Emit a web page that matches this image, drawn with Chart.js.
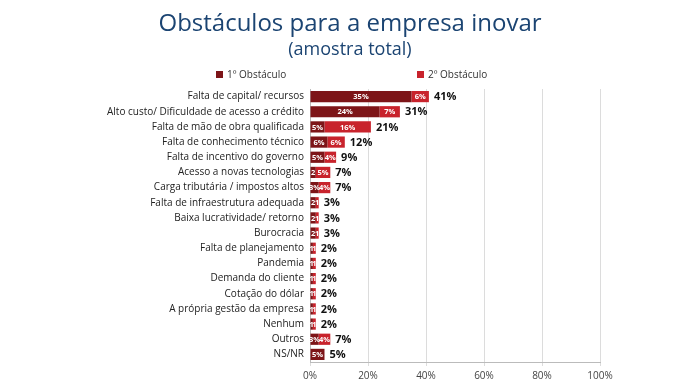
<!DOCTYPE html>
<html>
<head>
<meta charset="utf-8">
<script src="https://cdn.jsdelivr.net/npm/chart.js@4.4.0/dist/chart.umd.min.js"></script>
<style>
  html, body { margin: 0; padding: 0; background: #fff; }
  #wrap { width: 700px; height: 390px; position: relative; font-family: 'Open Sans', 'DejaVu Sans', sans-serif; }
  #chartBox { position: absolute; left: 0; top: 0; width: 700px; height: 390px; }
  .title { position: absolute; left: 0; width: 700px; text-align: center; color: #1b4472; white-space: nowrap; }
  #t1 { top: 6px; font-size: 24px; line-height: 32px; }
  #t2 { top: 36px; font-size: 18px; line-height: 24px; }
  .leg { position: absolute; top: 67px; font-size: 10px; line-height: 14px; color: #333; white-space: nowrap; }
  .leg span { display: inline-block; width: 7px; height: 7px; margin-right: 4px; vertical-align: 0px; }
</style>
</head>
<body>
<div id="wrap">
  <div id="chartBox"><canvas id="myBarGraph"></canvas></div>
  <div class="title" id="t1">Obstáculos para a empresa inovar</div>
  <div class="title" id="t2">(amostra total)</div>
  <div class="leg" id="leg1" style="left:216px"><span style="background:#7d1518"></span>1º Obstáculo</div>
  <div class="leg" id="leg2" style="left:417px"><span style="background:#c8232c"></span>2º Obstáculo</div>
</div>
<script>
// categories (top to bottom)
var obstacles = [
    "Falta de capital/ recursos",
    "Alto custo/ Dificuldade de acesso a crédito",
    "Falta de mão de obra qualificada",
    "Falta de conhecimento técnico",
    "Falta de incentivo do governo",
    "Acesso a novas tecnologias",
    "Carga tributária / impostos altos",
    "Falta de infraestrutura adequada",
    "Baixa lucratividade/ retorno",
    "Burocracia",
    "Falta de planejamento",
    "Pandemia",
    "Demanda do cliente",
    "Cotação do dólar",
    "A própria gestão da empresa",
    "Nenhum",
    "Outros",
    "NS/NR"
];
var firstObstacle  = [35, 24, 5, 6, 5, 2, 3, 2, 2, 2, 1, 1, 1, 1, 1, 1, 3, 5];
var secondObstacle = [6, 7, 16, 6, 4, 5, 4, 1, 1, 1, 1, 1, 1, 1, 1, 1, 4, 0];
var totals         = [41, 31, 21, 12, 9, 7, 7, 3, 3, 3, 2, 2, 2, 2, 2, 2, 7, 5];
var xTicks = [0, 20, 40, 60, 80, 100];

var labelFont = "'Open Sans', 'DejaVu Sans', sans-serif";

// draws the % inside each segment and the total at the end of the bar
var barLabels = {
    id: "barLabels",
    afterDatasetsDraw: function(chart) {
        var ctx = chart.ctx;
        ctx.save();
        ctx.textBaseline = "middle";
        chart.data.datasets.forEach(function(ds, di) {
            var meta = chart.getDatasetMeta(di);
            meta.data.forEach(function(bar, i) {
                var v = ds.data[i];
                if (!v) return;
                var w = Math.abs(bar.x - bar.base);
                ctx.fillStyle = "#fff";
                ctx.font = "bold 7.5px " + labelFont;
                ctx.textAlign = "center";
                var cx = (bar.x + bar.base) / 2;
                var txt = v + "%";
                if (ctx.measureText(txt).width > w + 4) txt = String(v);
                ctx.fillText(txt, cx, bar.y + 0.5);
            });
        });
        // totals
        var last = chart.getDatasetMeta(1);
        var first = chart.getDatasetMeta(0);
        ctx.fillStyle = "#111";
        ctx.font = "bold 11px " + labelFont;
        ctx.textAlign = "left";
        totals.forEach(function(t, i) {
            var x = Math.max(last.data[i].x, first.data[i].x);
            ctx.fillText(t + "%", x + 5, first.data[i].y + 0.5);
        });
        ctx.restore();
    }
};

var ctx = document.getElementById("myBarGraph");
var myBarGraph = new Chart(ctx, {
    type: "bar",
    data: {
        labels: obstacles,
        datasets: [{
                label: "1º Obstáculo",
                backgroundColor: "#7d1518",
                data: firstObstacle
            },
            {
                label: "2º Obstáculo",
                backgroundColor: "#c8232c",
                data: secondObstacle
            }
        ]
    },
    options: {
        indexAxis: "y",
        responsive: true,
        maintainAspectRatio: false,
        animation: false,
        layout: { padding: { left: 0, right: 100, top: 89, bottom: 4 } },
        datasets: { bar: { categoryPercentage: 0.74, barPercentage: 1 } },
        plugins: {
            title: { display: false },
            legend: { display: false },
            tooltip: { enabled: false }
        },
        scales: {
            x: {
                stacked: true,
                min: 0,
                max: 100,
                afterBuildTicks: function(scale) {
                    scale.ticks = xTicks.map(function(v) { return { value: v }; });
                },
                ticks: {
                    color: "#444",
                    font: { family: labelFont, size: 10 },
                    padding: 4,
                    callback: function(v) { return v + "%"; }
                },
                grid: { color: "#dcdcdc", drawTicks: true, tickLength: 4 },
                border: { color: "#bbb" }
            },
            y: {
                stacked: true,
                afterFit: function(scale) { scale.width = 310; },
                ticks: {
                    color: "#222",
                    font: { family: labelFont, size: 10 },
                    padding: 3,
                    autoSkip: false
                },
                grid: { display: false, drawTicks: true, tickLength: 3 },
                border: { color: "#bbb" }
            }
        }
    },
    plugins: [barLabels]
});
</script>
</body>
</html>
